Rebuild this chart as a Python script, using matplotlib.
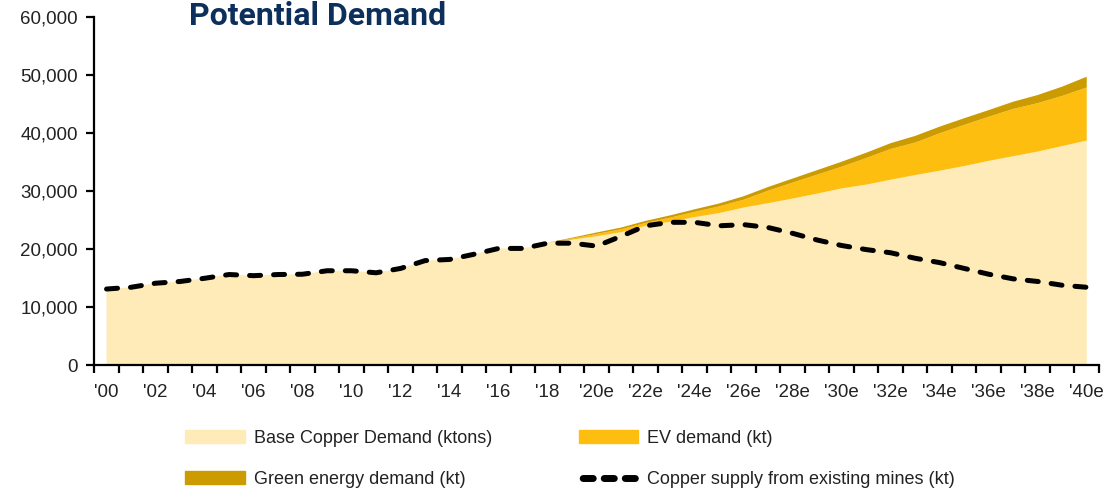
import matplotlib
matplotlib.use("Agg")
import matplotlib.pyplot as plt
import numpy as np
from matplotlib.patches import Patch
from matplotlib.lines import Line2D
from matplotlib.ticker import FuncFormatter, FixedLocator

years = [f"'{y % 100:02d}" + ("e" if y >= 2020 else "") for y in range(2000, 2041)]

supply = [13100, 13400, 14100, 14400, 14950, 15600, 15400, 15600, 15650, 16250,
          16250, 15900, 16650, 18000, 18200, 19100, 20100, 20100, 21000,
          21000, 20500, 22200, 24000, 24600, 24600, 24000, 24200, 23700, 22700,
          21550, 20600, 19900, 19350, 18400, 17650, 16650, 15650, 14850, 14400,
          13750, 13400]

base = [13100, 13400, 14100, 14400, 14950, 15600, 15400, 15600, 15650, 16250,
        16250, 15900, 16650, 18000, 18200, 19100, 20100, 20100, 21100,
        21600, 22200, 22900, 24000, 24700, 25500, 26200, 27150, 27900, 28700,
        29550, 30450, 31100, 31950, 32750, 33500, 34300, 35200, 36000, 36800,
        37750, 38700]

ev = [0] * 19 + [200, 400, 500, 500, 700, 900, 1150, 1350, 2150, 2750,
                 3270, 3740, 4580, 5300, 5600, 6450, 7100, 7600, 8150, 8350,
                 8650, 9150]

green = [0] * 19 + [150, 250, 300, 350, 400, 450, 500, 600, 650, 700,
                    780, 860, 920, 1000, 1150, 1150, 1150, 1150, 1250, 1400,
                    1600, 1850]

series_names = ["Base Copper Demand (ktons)", "EV demand (kt)",
                "Green energy demand (kt)", "Copper supply from existing mines (kt)"]

c_base = "#FFEBB8"
c_ev = "#FEBE10"
c_green = "#CC9B00"

fig = plt.figure(figsize=(11.19, 4.92), dpi=100)
ax = fig.add_axes([94.3 / 1119, 1 - 365 / 492, (1099 - 94.3) / 1119, (365 - 17) / 492])

x = np.arange(len(years))
ax.stackplot(x, base, ev, green, colors=[c_base, c_ev, c_green], linewidth=0)
ax.plot(x, supply, color="black", lw=3.6, linestyle=(0, (2.2, 2.6)),
        dash_capstyle="round", solid_capstyle="round")

ax.set_xlim(-0.5, len(years) - 0.5)
ax.set_ylim(0, 60000)

for s in ["top", "right"]:
    ax.spines[s].set_visible(False)
for s in ["left", "bottom"]:
    ax.spines[s].set_linewidth(1.6)
    ax.spines[s].set_color("black")

ax.set_yticks(np.arange(0, 60001, 10000))
ax.yaxis.set_major_formatter(FuncFormatter(lambda v, p: f"{int(v):,}"))
ax.tick_params(axis="y", length=6, width=1.6, pad=6, labelsize=13.5, labelcolor="#222222")

ax.xaxis.set_major_locator(FixedLocator(x[::2]))
ax.set_xticklabels(years[::2])
ax.xaxis.set_minor_locator(FixedLocator(np.arange(-0.5, len(years), 1.0)))
ax.tick_params(axis="x", which="major", length=0, pad=14, labelsize=13.5, labelcolor="#222222")
ax.tick_params(axis="x", which="minor", length=6, width=1.6)

for lab in ax.get_xticklabels() + ax.get_yticklabels():
    lab.set_family("Liberation Sans")

fig.text(318 / 1119, 1 - 25 / 492, "Potential Demand", family="Roboto", weight="bold",
         fontsize=23, color="#0D2F5B", ha="center", va="baseline")

handles = [Patch(color=c_base), Patch(color=c_green), Patch(color=c_ev),
           Line2D([0], [0], color="black", lw=5, linestyle=(2.5, (1.45, 1.58)),
                  dash_capstyle="round")]
labels = [series_names[0], series_names[2], series_names[1], series_names[3]]
fig.legend(handles, labels, loc="upper left", bbox_to_anchor=(185 / 1119, 1 - 430 / 492),
           ncol=2, frameon=False, borderpad=0, borderaxespad=0,
           handlelength=3.3, handleheight=0.7, handletextpad=0.5,
           columnspacing=4.8, labelspacing=1.33,
           prop={"family": "Liberation Sans", "size": 13})
for t in fig.legends[0].get_texts():
    t.set_color("#222222")

fig.savefig("out.png", dpi=100)
